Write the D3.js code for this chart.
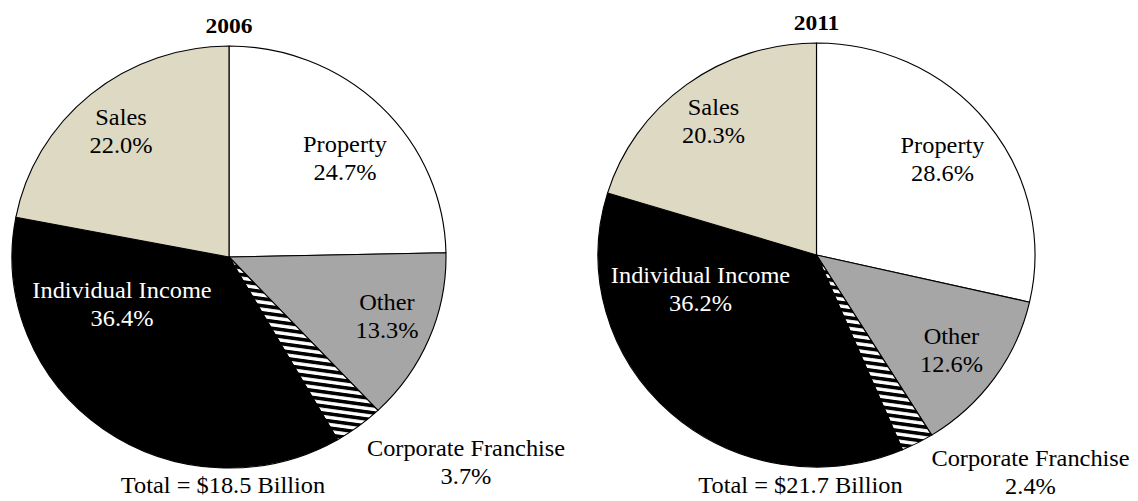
<!DOCTYPE html>
<html><head><meta charset="utf-8">
<script src="https://cdn.jsdelivr.net/npm/d3@7"></script>
<style>
html,body{margin:0;padding:0;background:#fff;}
svg{display:block;}
</style></head>
<body>
<svg id="chart" width="1138" height="501"></svg>
<script>
// ---- data ----
const categories = ["Property", "Other", "Corporate Franchise", "Individual Income", "Sales"];
const years = ["2006", "2011"];
const values2006 = [24.7, 13.3, 3.7, 36.4, 22.0];
const values2011 = [28.6, 12.6, 2.4, 36.2, 20.3];
const totals = ["Total = $18.5 Billion", "Total = $21.7 Billion"];

// ---- layout / style ----
const FONT = "'Liberation Serif', 'Times New Roman', Times, serif";
const fills = {"Property":"#ffffff","Other":"#a6a6a6","Corporate Franchise":"url(#stripes)","Individual Income":"#000000","Sales":"#ddd9c3"};
const textFill = {"Individual Income":"#ffffff"};
const pies = [
  {cx:229, cy:257, rx:217, ry:211, titleY:33,
   labels:{"Property":[116,-105],"Other":[158,53],"Corporate Franchise":[237,199],"Individual Income":[-107,41],"Sales":[-108,-132]},
   total:[-6,236]},
  {cx:816.5, cy:255, rx:218.5, ry:212, titleY:30,
   labels:{"Property":[126,-102],"Other":[135,89],"Corporate Franchise":[214,211],"Individual Income":[-116,28],"Sales":[-103,-140]},
   total:[-16,238]}
];
const seriesVals = [values2006, values2011];
const lineH = 28;

const svg = d3.select("#chart");
const defs = svg.append("defs");
const pat = defs.append("pattern").attr("id","stripes").attr("patternUnits","userSpaceOnUse")
  .attr("width",7).attr("height",7).attr("patternTransform","rotate(8)");
pat.append("rect").attr("width",7).attr("height",7).attr("fill","#fff");
pat.append("rect").attr("width",7).attr("height",3.6).attr("fill","#000");

const pieGen = d3.pie().sort(null).value(d => d.v);

pies.forEach((p, i) => {
  const data = categories.map((c, j) => ({c, v: seriesVals[i][j]}));
  const arcs = pieGen(data);
  const arc = d3.arc().innerRadius(0).outerRadius(p.ry);
  const g = svg.append("g").attr("transform", `translate(${p.cx},${p.cy}) scale(${p.rx/p.ry},1)`);
  g.selectAll("path").data(arcs).join("path")
    .attr("d", arc)
    .attr("fill", d => fills[d.data.c])
    .attr("stroke", "#000")
    .attr("stroke-width", 1.1)
    .attr("stroke-linejoin","round");

  // title
  svg.append("text").attr("x", p.cx).attr("y", p.titleY)
    .attr("text-anchor","middle").attr("font-weight","bold").attr("font-size",21)
    .attr("font-family", FONT)
    .attr("transform", `translate(${p.cx},0) scale(1.12,1) translate(${-p.cx},0)`)
    .text(years[i]);

  // labels
  const lg = svg.append("g").attr("transform", `translate(${p.cx},${p.cy})`);
  arcs.forEach(a => {
    const [dx, dy] = p.labels[a.data.c];
    const t = lg.append("text").attr("text-anchor","middle").attr("font-size",23)
      .attr("font-family", FONT)
      .attr("fill", textFill[a.data.c] || "#000")
      .attr("transform", `translate(${dx},${dy}) scale(1.06,1)`);
    t.append("tspan").attr("x",0).attr("y",0).text(a.data.c);
    t.append("tspan").attr("x",0).attr("y",lineH).text(a.data.v.toFixed(1) + "%");
  });
  lg.append("text").attr("text-anchor","middle").attr("font-size",23)
    .attr("font-family", FONT)
    .attr("transform", `translate(${p.total[0]},${p.total[1]}) scale(1.06,1)`)
    .text(totals[i]);
});
</script>
</body></html>
